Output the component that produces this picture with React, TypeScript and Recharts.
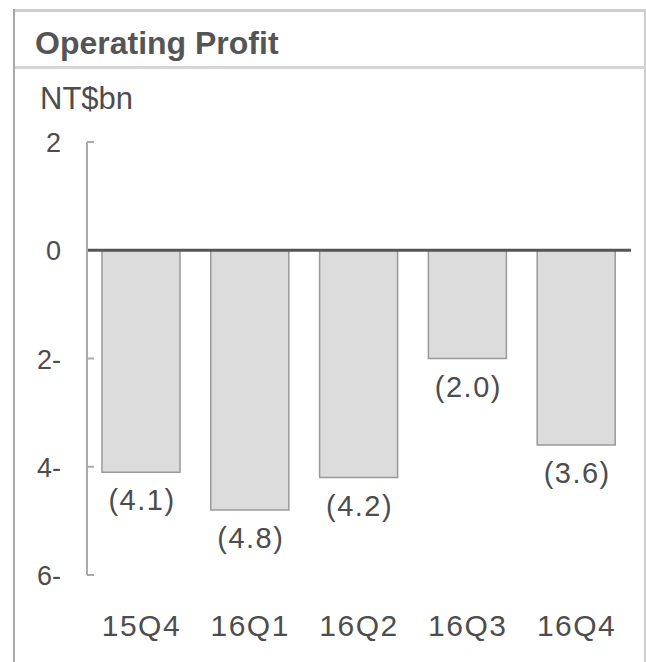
import React from "react";
import { BarChart, Bar, XAxis, YAxis, ReferenceLine, LabelList } from "recharts";

const quarters = ["15Q4", "16Q1", "16Q2", "16Q3", "16Q4"];
const operatingProfit = [-4.1, -4.8, -4.2, -2.0, -3.6];
const yTicks = [2, 0, -2, -4, -6];

const FONT = "'Liberation Sans', Arial, Helvetica, sans-serif";
const TEXT = "#4d4d4d";

const data = quarters.map((q, i) => ({ quarter: q, value: operatingProfit[i] }));

// negatives are shown as "2-" like the source slide
const fmtTick = (v: number) => (v < 0 ? `${-v}-` : `${v}`);
const fmtValue = (v: number) => `(${Math.abs(v).toFixed(1)})`;

const Y_MARGIN = 26;

function YTick(props: any) {
  const { x, y, payload } = props;
  const axisX = x + Y_MARGIN;
  return (
    <g>
      {payload.value !== 0 && (
        <line x1={axisX} x2={axisX + 7} y1={y} y2={y} stroke="#aaa" strokeWidth={2} />
      )}
      <text x={x} y={y} dy={10} textAnchor="end" fill={TEXT} fontSize={27} fontFamily={FONT}>
        {fmtTick(payload.value)}
      </text>
    </g>
  );
}

function ValueLabel(props: any) {
  const { x, y, width, height, value } = props;
  const bottom = Math.max(y, y + height);
  return (
    <text
      x={x + width / 2 + 1}
      y={bottom + 38}
      textAnchor="middle"
      fill={TEXT}
      fontSize={29}
      fontFamily={FONT}
      letterSpacing={1.5}
    >
      {fmtValue(value)}
    </text>
  );
}

export default function App() {
  return (
    <div style={{ position: "absolute", left: 0, top: 0, width: 646, height: 662, background: "#fff", fontFamily: FONT }}>
      {/* frame */}
      <div style={{ position: "absolute", left: 13, top: 9, width: 633, height: 3, background: "#cfcfcf" }} />
      <div style={{ position: "absolute", left: 13, top: 66, width: 633, height: 3, background: "#d6d6d6" }} />
      <div style={{ position: "absolute", left: 13, top: 9, width: 2, height: 653, background: "#a8a8a8" }} />
      <div style={{ position: "absolute", left: 644, top: 9, width: 2, height: 653, background: "#cfcfcf" }} />
      <div style={{ position: "absolute", left: 35, top: 25, fontSize: 32, fontWeight: 700, color: "#555", whiteSpace: "nowrap" }}>
        Operating Profit
      </div>
      <div style={{ position: "absolute", left: 40, top: 81, fontSize: 31, color: TEXT, whiteSpace: "nowrap" }}>
        NT$bn
      </div>
      <div style={{ position: "absolute", left: 0, top: 0 }}>
        <BarChart
          width={646}
          height={662}
          data={data}
          margin={{ top: 142, right: 15, bottom: 0, left: 27 }}
          barSize={78}
        >
          <XAxis
            dataKey="quarter"
            axisLine={false}
            tickLine={false}
            tickSize={0}
            tickMargin={40}
            height={87}
            interval={0}
            tick={{ fill: TEXT, fontSize: 30, fontFamily: FONT, letterSpacing: 1.5 }}
          />
          <YAxis
            width={60}
            domain={[-6, 2]}
            ticks={yTicks}
            interval={0}
            tickLine={false}
            tickSize={0}
            tickMargin={Y_MARGIN}
            axisLine={{ stroke: "#aaa", strokeWidth: 2 }}
            tick={<YTick />}
          />
          <Bar
            dataKey="value"
            fill="#dcdcdc"
            stroke="#999"
            strokeWidth={1.5}
            isAnimationActive={false}
          >
            <LabelList dataKey="value" content={<ValueLabel />} />
          </Bar>
          <ReferenceLine y={0} stroke="#555" strokeWidth={3} />
        </BarChart>
      </div>
    </div>
  );
}
